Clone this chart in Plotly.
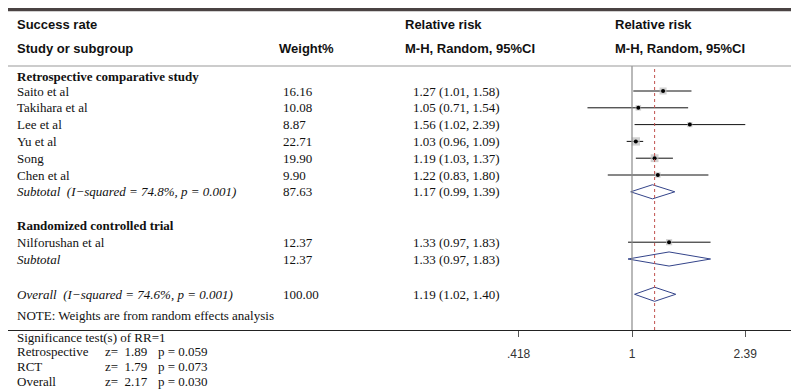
import math
import plotly.graph_objects as go

# ---------------- data ----------------
studies = ["Saito et al", "Takihara et al", "Lee et al", "Yu et al", "Song", "Chen et al", "Nilforushan et al"]
study_rows = [0, 1, 2, 3, 4, 5, 9]
weights = [16.16, 10.08, 8.87, 22.71, 19.90, 9.90, 12.37]
rr = [1.27, 1.05, 1.56, 1.03, 1.19, 1.22, 1.33]
ci_lo = [1.01, 0.71, 1.02, 0.96, 1.03, 0.83, 0.97]
ci_hi = [1.58, 1.54, 2.39, 1.09, 1.37, 1.80, 1.83]

pooled_labels = ["Subtotal  (I\u2212squared = 74.8%, p = 0.001)", "Subtotal",
                 "Overall  (I\u2212squared = 74.6%, p = 0.001)"]
pooled_rows = [6, 10, 12.1]
pooled_weights = [87.63, 12.37, 100.00]
pooled_rr = [1.17, 1.33, 1.19]
pooled_lo = [0.99, 0.97, 1.02]
pooled_hi = [1.39, 1.83, 1.40]

group_labels = ["Retrospective comparative study", "Randomized controlled trial"]
group_rows = [-0.85, 8]

tick_vals = [0.418, 1, 2.39]
tick_text = [".418", "1", "2.39"]

sig_names = ["Retrospective", "RCT", "Overall"]
sig_z = [1.89, 1.79, 2.17]
sig_p = ["0.059", "0.073", "0.030"]

overall_rr = 1.19

# ---------------- layout constants ----------------
W, H = 799, 389
SERIF = "Liberation Serif, Times New Roman, serif"
SANS = "Liberation Sans, Arial, Helvetica, sans-serif"
TXT = "#111111"
AXIS_Y = 322
HEAD_Y = 58
PX_PER_LN = 130.0
X_ONE = 624.0


def px(x):
    return x / W


def py(y):
    return 1 - y / H


log_lo = (0 - X_ONE) / PX_PER_LN / math.log(10)
log_hi = (W - X_ONE) / PX_PER_LN / math.log(10)

row0_px = 83.0
row_h = 16.8
y_top = (0 - row0_px) / row_h
y_bot = (AXIS_Y - row0_px) / row_h

fig = go.Figure()

# CI lines for studies
for r, lo, hi in zip(study_rows, ci_lo, ci_hi):
    fig.add_trace(go.Scatter(x=[lo, hi], y=[r, r], mode="lines",
                             line=dict(color="#111111", width=1), hoverinfo="skip",
                             showlegend=False))

# weight boxes
fig.add_trace(go.Scatter(x=rr, y=study_rows, mode="markers",
                         marker=dict(symbol="square", color="#bdbdbd",
                                     size=[math.sqrt(w) * 1.75 for w in weights],
                                     line=dict(width=0)),
                         showlegend=False, hoverinfo="skip"))
# point estimates
fig.add_trace(go.Scatter(x=rr, y=study_rows, mode="markers",
                         marker=dict(symbol="circle", color="#000000", size=4),
                         showlegend=False, hoverinfo="skip"))

# diamonds
half = 0.42
for r, est, lo, hi in zip(pooled_rows, pooled_rr, pooled_lo, pooled_hi):
    fig.add_trace(go.Scatter(x=[lo, est, hi, est, lo], y=[r, r - half, r, r + half, r],
                             mode="lines", line=dict(color="#34448a", width=1),
                             showlegend=False, hoverinfo="skip"))

# vertical reference lines
fig.add_shape(type="line", xref="x", yref="paper", x0=1, x1=1,
              y0=py(AXIS_Y), y1=py(HEAD_Y), line=dict(color="#8a8a8a", width=1.2))
fig.add_shape(type="line", xref="x", yref="paper", x0=overall_rr, x1=overall_rr,
              y0=py(AXIS_Y), y1=py(HEAD_Y), line=dict(color="#c0504d", width=1, dash="3px,3px"))

# horizontal rules
fig.add_shape(type="line", xref="paper", yref="paper", x0=0, x1=1, y0=py(1.5), y1=py(1.5),
              line=dict(color="#4a4343", width=3.5))
fig.add_shape(type="line", xref="paper", yref="paper", x0=0, x1=1, y0=py(HEAD_Y), y1=py(HEAD_Y),
              line=dict(color="#9a9a9a", width=1.2))

ann = []


def add_text(x, y, text, yref="paper", font=SERIF, size=13, bold=False, italic=False,
             anchor="left", color=TXT):
    t = text
    if bold:
        t = "<b>" + t + "</b>"
    if italic:
        t = "<i>" + t + "</i>"
    ann.append(dict(x=px(x), y=y, xref="paper", yref=yref, text=t, showarrow=False,
                    xanchor=anchor, yanchor="middle",
                    font=dict(family=font, size=size, color=color)))


# headers
add_text(7, py(17), "Success rate", font=SANS, size=13, bold=True)
add_text(7, py(40), "Study or subgroup", font=SANS, size=13, bold=True)
add_text(328, py(40), "Weight%", font=SANS, size=13, bold=True, anchor="right")
add_text(395, py(17), "Relative risk", font=SANS, size=13, bold=True)
add_text(395, py(40), "M-H, Random, 95%CI", font=SANS, size=13, bold=True)
add_text(605, py(17), "Relative risk", font=SANS, size=13, bold=True)
add_text(605, py(40), "M-H, Random, 95%CI", font=SANS, size=13, bold=True)

# group headers
for lab, r in zip(group_labels, group_rows):
    add_text(7, r, lab, yref="y", bold=True)

# study rows
for name, r, w, e, lo, hi in zip(studies, study_rows, weights, rr, ci_lo, ci_hi):
    add_text(7, r, name, yref="y")
    add_text(273, r, f"{w:.2f}", yref="y")
    add_text(403, r, f"{e:.2f} ({lo:.2f}, {hi:.2f})", yref="y")

# pooled rows
for lab, r, w, e, lo, hi in zip(pooled_labels, pooled_rows, pooled_weights, pooled_rr, pooled_lo, pooled_hi):
    add_text(7, r, lab, yref="y", italic=True)
    add_text(273, r, f"{w:.2f}", yref="y")
    add_text(403, r, f"{e:.2f} ({lo:.2f}, {hi:.2f})", yref="y")

# footer
add_text(7, py(307), "NOTE: Weights are from random effects analysis")
add_text(7, py(329), "Significance test(s) of RR=1")
for i, (n, z, p) in enumerate(zip(sig_names, sig_z, sig_p)):
    yy = py(343 + 15 * i)
    add_text(7, yy, n)
    add_text(95, yy, f"z=  {z:.2f}")
    add_text(148, yy, f"p = {p}")

fig.update_layout(
    width=W, height=H,
    margin=dict(l=0, r=0, t=0, b=0),
    paper_bgcolor="white", plot_bgcolor="white",
    annotations=ann,
    showlegend=False,
    xaxis=dict(type="log", range=[log_lo, log_hi], domain=[0, 1],
               showgrid=False, zeroline=False,
               showline=True, linecolor="#222222", linewidth=1.2,
               ticks="outside", ticklen=6, tickcolor="#555555", tickwidth=1,
               tickvals=tick_vals, ticktext=tick_text,
               tickfont=dict(family=SANS, size=12, color="#333333"),
               ticklabelstandoff=6),
    yaxis=dict(range=[y_bot, y_top], domain=[py(AXIS_Y), 1],
               showgrid=False, zeroline=False, showline=False,
               showticklabels=False, ticks=""),
)

fig.write_html("out.html")
